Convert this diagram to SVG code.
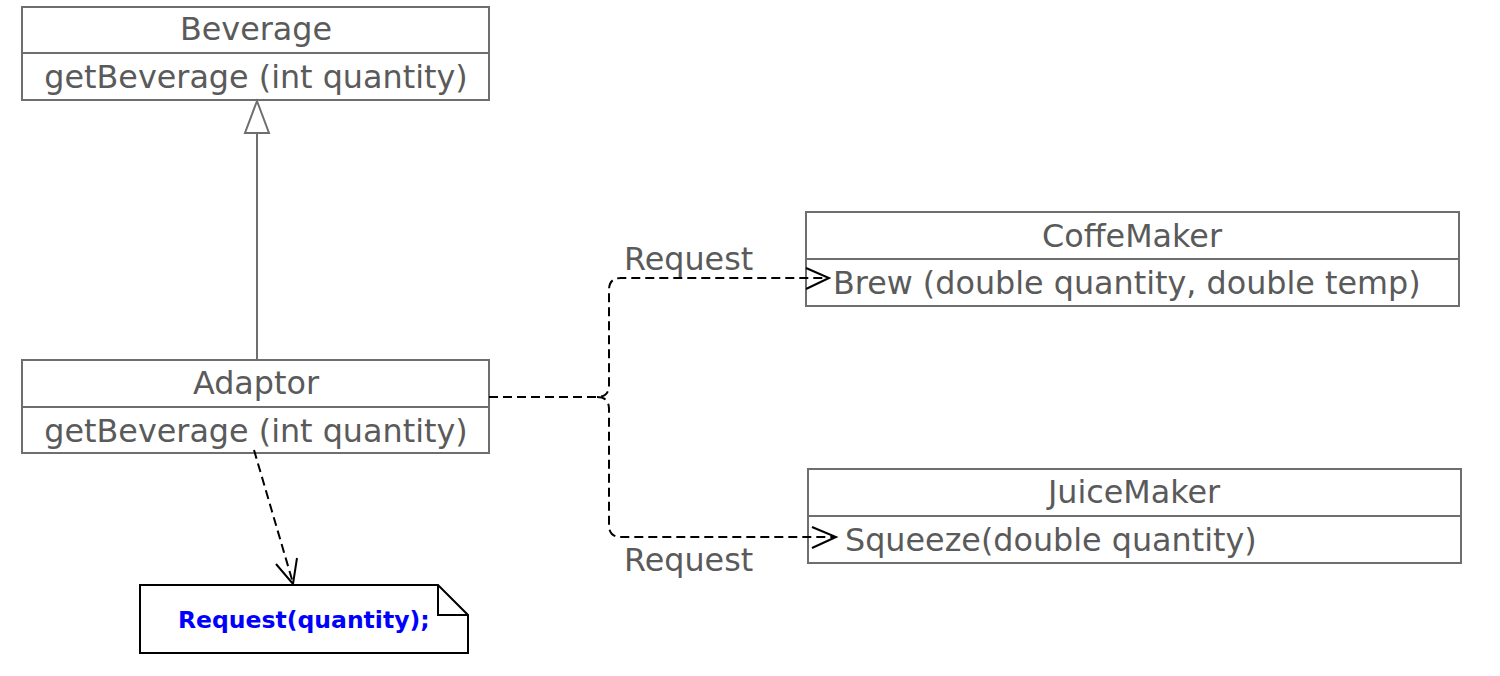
<svg xmlns="http://www.w3.org/2000/svg" width="1500" height="676" viewBox="0 0 1500 676">
<style>
.box{fill:#fff;stroke:#6e6e6e;stroke-width:2}
.t{font-family:"DejaVu Sans",sans-serif;font-size:31.8px;fill:#5a5a5a}
.c{text-anchor:middle}
.dep{fill:none;stroke:#000;stroke-width:2;stroke-dasharray:9 5}
.head{fill:none;stroke:#000;stroke-width:2}
</style>
<rect width="1500" height="676" fill="#fff"/>
<g id="Beverage">
<rect class="box" x="22" y="7" width="467" height="93"/>
<line class="box" x1="22" y1="53" x2="489" y2="53"/>
<text class="t c" x="256" y="40">Beverage</text>
<text class="t c" x="256" y="88">getBeverage (int quantity)</text>
</g>
<g id="Adaptor">
<rect class="box" x="22" y="360" width="467" height="93"/>
<line class="box" x1="22" y1="407" x2="489" y2="407"/>
<text class="t c" x="256" y="394">Adaptor</text>
<text class="t c" x="256" y="442">getBeverage (int quantity)</text>
</g>
<g id="CoffeMaker">
<rect class="box" x="806" y="212" width="653" height="94"/>
<line class="box" x1="806" y1="259" x2="1459" y2="259"/>
<text class="t c" x="1132" y="247">CoffeMaker</text>
<text class="t" x="833" y="294">Brew (double quantity, double temp)</text>
</g>
<g id="JuiceMaker">
<rect class="box" x="808" y="469" width="653" height="94"/>
<line class="box" x1="808" y1="516" x2="1461" y2="516"/>
<text class="t c" x="1134" y="503">JuiceMaker</text>
<text class="t" x="845" y="551">Squeeze(double quantity)</text>
</g>
<g id="Note">
<path d="M140 585 H438 L468 615 V653 H140 Z" fill="#fff" stroke="#000" stroke-width="2"/>
<path d="M438 585 V615 H468" fill="none" stroke="#000" stroke-width="2"/>
<text x="178" y="628" font-family="DejaVu Sans, sans-serif" font-size="23.5" font-weight="bold" fill="#0000ff">Request(quantity);</text>
</g>
<g id="connectors">
<line x1="257" y1="360" x2="257" y2="133" stroke="#6e6e6e" stroke-width="2"/>
<path d="M257 101 L269 133 H245 Z" fill="#fff" stroke="#6e6e6e" stroke-width="2"/>
<path class="dep" d="M489 397 H597 Q609 397 609 385 V290 Q609 278 621 278 H829"/>
<path class="head" d="M806 268 L829 278 L806 289"/>
<path class="dep" d="M597 397 Q609 397 609 409 V525 Q609 537 621 537 H836"/>
<path class="head" d="M812 527 L836 537 L812 548"/>
<path class="dep" d="M254 450 L293 583"/>
<path class="head" d="M276 564 L293 584 L297 558"/>
<text class="t" x="624" y="270">Request</text>
<text class="t" x="624" y="571">Request</text>
</g>
</svg>
